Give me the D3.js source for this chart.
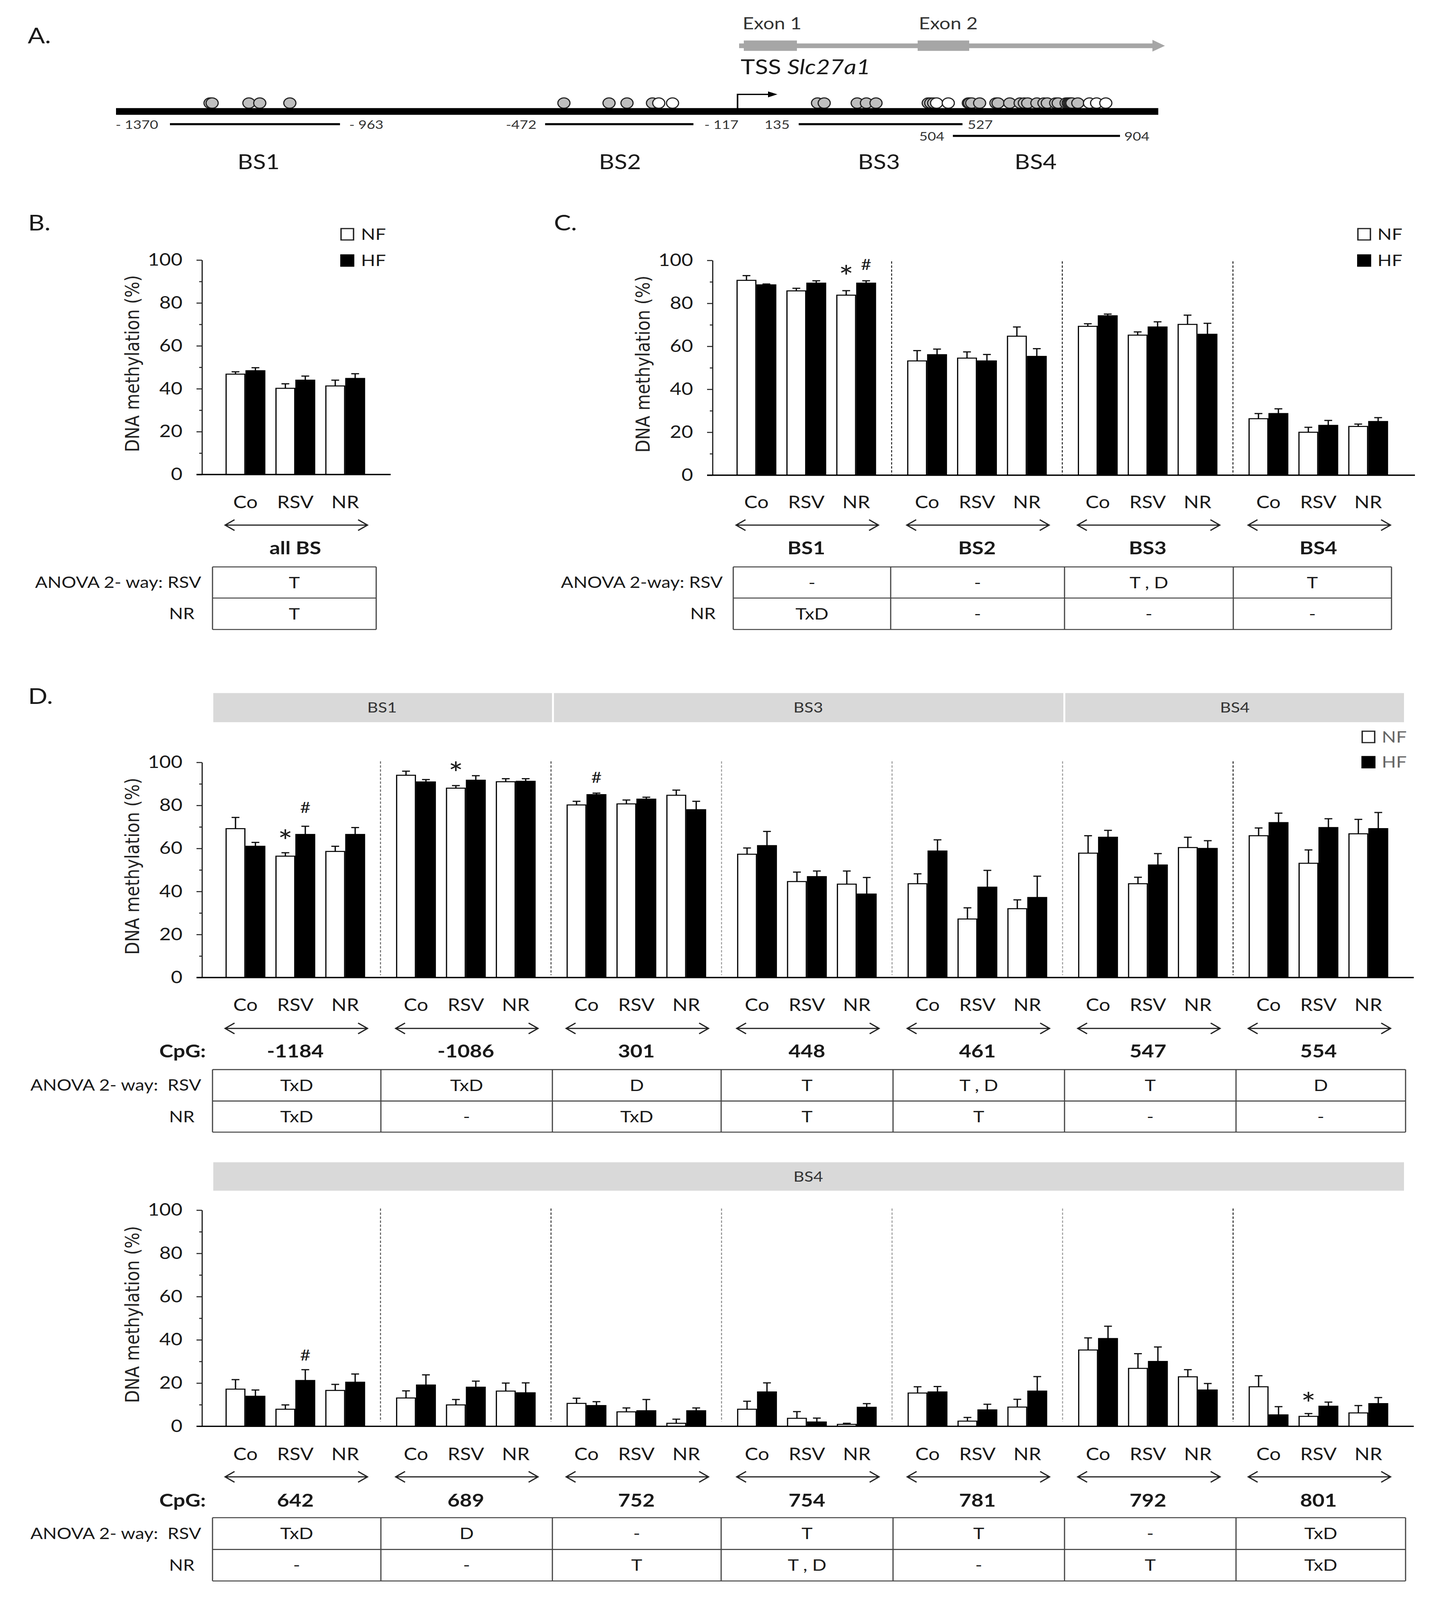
<!DOCTYPE html>
<html>
<head>
<meta charset="utf-8">
<script src="https://cdnjs.cloudflare.com/ajax/libs/d3/7.8.5/d3.min.js"></script>
<style>
  html, body { margin: 0; padding: 0; background: #fff; }
  text { font-family: Lato, "Open Sans", sans-serif; fill: #1a1a1a; white-space: pre; }
</style>
</head>
<body>
<script>
// categories
const treatments = ["Co", "RSV", "NR"];
const series = ["NF", "HF"];
const regionsC = ["BS1", "BS2", "BS3", "BS4"];
const cpgD1 = ["-1184", "-1086", "301", "448", "461", "547", "554"];
const cpgD2 = ["642", "689", "752", "754", "781", "792", "801"];
const yMajor = [0, 20, 40, 60, 80, 100];
const yMinor = [10, 30, 50, 70, 90];

// panel A: CpG positions (bp from TSS)
const cpgGrey = [-1274, -1269, -1181, -1155, -1083, -427, -319, -276, -215,
  180, 196, 275, 297, 320, 445, 451, 458,
  541, 544, 549, 568, 607, 612, 640, 665, 675, 683, 705, 722, 730, 750, 756,
  775, 780, 783, 786, 789, 803];
const cpgWhite = [-200, -167, 465, 493, 831, 848, 870];
const fragments = [
  { name: "BS1", from: -1370, to: -963, fromLabel: "- 1370", toLabel: "- 963" },
  { name: "BS2", from: -472, to: -117, fromLabel: "-472", toLabel: "- 117" },
  { name: "BS3", from: 135, to: 527, fromLabel: "135", toLabel: "527" },
  { name: "BS4", from: 504, to: 904, fromLabel: "504", toLabel: "904" }
];

// panel B, values per treatment
const allNF = [46.8, 40.2, 41.3];
const allHF = [48.4, 44.0, 44.8];
const allNFtop = [47.9, 42.3, 44.0];
const allHFtop = [49.8, 45.9, 47.0];

// panel C, values per region then treatment
const bsNF = [[90.7, 85.8, 83.8], [53.2, 54.5, 64.7], [69.3, 65.2, 70.2], [26.3, 20.0, 22.7]];
const bsHF = [[88.6, 89.4, 89.4], [56.1, 53.2, 55.3], [74.2, 69.0, 65.6], [28.7, 23.2, 25.0]];
const bsNFtop = [[92.9, 87.0, 85.9], [58.0, 57.4, 69.0], [70.5, 66.7, 74.5], [28.7, 22.3, 23.8]];
const bsHFtop = [[89.0, 90.5, 90.5], [58.7, 56.2, 58.9], [75.0, 71.4, 70.7], [30.9, 25.5, 26.8]];

// panel D top row
const d1NF = [[69.2, 56.4, 58.6], [94.0, 88.0, 91.0], [80.2, 80.7, 84.7], [57.3, 44.6, 43.4],
  [43.6, 27.2, 32.0], [57.8, 43.6, 60.4], [65.9, 53.1, 66.8]];
const d1HF = [[61.0, 66.5, 66.5], [90.9, 91.7, 91.2], [85.0, 82.9, 78.0], [61.3, 46.9, 38.8],
  [58.8, 42.0, 37.2], [65.2, 52.3, 60.0], [72.0, 69.7, 69.2]];
const d1NFtop = [[74.4, 58.0, 61.0], [95.9, 89.2, 92.4], [81.9, 82.5, 87.1], [60.2, 49.0, 49.5],
  [48.2, 32.4, 36.1], [65.9, 46.6, 65.2], [69.5, 59.3, 73.5]];
const d1HFtop = [[62.8, 70.3, 69.7], [92.0, 93.8, 92.4], [85.7, 83.8, 81.9], [67.9, 49.5, 46.5],
  [64.0, 49.8, 47.1], [68.4, 57.6, 63.6], [76.4, 73.8, 76.7]];

// panel D bottom row
const d2NF = [[17.2, 7.9, 16.6], [13.1, 9.9, 16.3], [10.6, 6.7, 1.4], [7.9, 3.7, 0.9],
  [15.4, 2.4, 8.9], [35.3, 26.8, 22.9], [18.3, 4.6, 6.2]];
const d2HF = [[13.9, 21.2, 20.4], [19.1, 18.1, 15.5], [9.6, 7.2, 7.2], [15.9, 2.0, 8.8],
  [15.9, 7.6, 16.3], [40.6, 30.0, 16.8], [5.3, 9.3, 10.5]];
const d2NFtop = [[21.6, 9.9, 19.4], [16.4, 12.4, 20.0], [13.0, 8.5, 3.3], [11.6, 6.8, 1.4],
  [18.3, 4.1, 12.5], [40.9, 33.6, 26.2], [23.4, 5.9, 9.6]];
const d2HFtop = [[16.8, 26.2, 24.2], [23.8, 20.9, 20.1], [11.4, 12.4, 8.5], [20.1, 3.8, 10.5],
  [18.4, 10.2, 23.0], [46.3, 36.7, 19.8], [9.1, 11.2, 13.3]];

// significance marks: group, treatment, symbol, series it sits over, height on the y scale
const marksC = [["BS1", "NR", "*", "NF", 94], ["BS1", "NR", "#", "HF", 98]];
const marksD1 = [["-1184", "RSV", "*", "NF", 65], ["-1184", "RSV", "#", "HF", 79],
  ["-1086", "RSV", "*", "NF", 96.5], ["301", "Co", "#", "HF", 93]];
const marksD2 = [["642", "RSV", "#", "HF", 33], ["801", "RSV", "*", "NF", 12]];

// ANOVA tables
const tableB = [["T"], ["T"]];
const tableC = [["-", "-", "T , D", "T"], ["TxD", "-", "-", "-"]];
const tableD1 = [["TxD", "TxD", "D", "T", "T , D", "T", "D"], ["TxD", "-", "TxD", "T", "T", "-", "-"]];
const tableD2 = [["TxD", "D", "-", "T", "T", "-", "TxD"], ["-", "-", "T", "T , D", "-", "T", "TxD"]];

// the window can be shorter than the figure, so the figure is fitted to whatever it gets
const svg = d3.select("body").append("svg")
  .attr("width", window.innerWidth)
  .attr("height", window.innerHeight)
  .attr("viewBox", "0 0 3658 4781")
  .attr("preserveAspectRatio", "none")
  .style("display", "block");

function label(x, y, str, size, anchor, weight, color) {
  return svg.append("text")
    .attr("x", x)
    .attr("y", y)
    .attr("dy", "0.35em")
    .attr("text-anchor", anchor || "middle")
    .style("font-size", size + "px")
    .style("font-weight", weight || "normal")
    .style("fill", color || "#1a1a1a")
    .text(str);
}

// one bar panel with its axis, bars, separators, labels and arrows
function barPanel(cfg) {
  const g = svg.append("g");
  const y = d3.scaleLinear().domain([0, 100]).range([cfg.y0, cfg.y100]);
  const x = d3.scaleBand().domain(cfg.groups).range(cfg.xRange);
  const inner = d3.scaleBand().domain(treatments).range([27, 410]);
  const bar = d3.scaleBand().domain(series).range([-51, 51]);
  const centre = (grp, t) => x(grp) + inner(t) + inner.bandwidth() / 2;

  // separators go behind the bars
  cfg.groups.slice(0, -1).forEach(function(grp, i) {
    g.append("line")
      .attr("x1", x(grp) + x.bandwidth())
      .attr("x2", x(grp) + x.bandwidth())
      .attr("y1", cfg.y100 + cfg.sepTop)
      .attr("y2", cfg.y0 - cfg.sepGap)
      .attr("stroke", cfg.sepColors[i])
      .attr("stroke-width", 2.5)
      .attr("stroke-dasharray", "7,5");
  });

  cfg.groups.forEach(function(grp, gi) {
    treatments.forEach(function(t, ti) {
      series.forEach(function(s) {
        const val = s === "NF" ? cfg.nf[gi][ti] : cfg.hf[gi][ti];
        const top = s === "NF" ? cfg.nfTop[gi][ti] : cfg.hfTop[gi][ti];
        const bx = centre(grp, t) + bar(s);
        const mid = bx + bar.bandwidth() / 2;

        g.append("line").attr("x1", mid).attr("x2", mid)
          .attr("y1", y(val)).attr("y2", y(top))
          .attr("stroke", "#111").attr("stroke-width", 3.5);
        g.append("line").attr("x1", mid - 10).attr("x2", mid + 10)
          .attr("y1", y(top)).attr("y2", y(top))
          .attr("stroke", "#111").attr("stroke-width", 3.5);

        g.append("rect")
          .attr("x", bx + 1.5)
          .attr("y", y(val))
          .attr("width", bar.bandwidth() - 3)
          .attr("height", y(0) - y(val))
          .attr("fill", s === "NF" ? "#fff" : "#000")
          .attr("stroke", "#000")
          .attr("stroke-width", 3);
      });

      label(centre(grp, t), cfg.catY, t, 51);
    });

    // double headed arrow under each group
    const ax1 = centre(grp, "Co") - 52;
    const ax2 = centre(grp, "NR") + 57;
    g.append("path")
      .attr("d", "M" + (ax1 + 24) + "," + (cfg.arrowY - 16) + "L" + ax1 + "," + cfg.arrowY + "L" + (ax1 + 24) + "," + (cfg.arrowY + 16)
        + "M" + ax1 + "," + cfg.arrowY + "L" + ax2 + "," + cfg.arrowY
        + "M" + (ax2 - 24) + "," + (cfg.arrowY - 16) + "L" + ax2 + "," + cfg.arrowY + "L" + (ax2 - 24) + "," + (cfg.arrowY + 16))
      .attr("fill", "none")
      .attr("stroke", "#222")
      .attr("stroke-width", 3.5);

    label(centre(grp, "RSV"), cfg.nameY, cfg.names ? cfg.names[gi] : grp, 54, "middle", "bold");
  });

  // y axis
  const axis = g.append("g").attr("transform", "translate(" + cfg.axisX + ",0)");
  axis.call(d3.axisLeft(y).tickValues(yMajor).tickSize(14).tickSizeOuter(0).tickPadding(36));
  axis.selectAll("text").style("font-size", "51px").style("font-family", "Lato").style("fill", "#1a1a1a");
  axis.selectAll("line").attr("stroke", "#222").attr("stroke-width", 3);
  axis.select(".domain").attr("stroke", "#222").attr("stroke-width", 3);
  const minor = g.append("g").attr("transform", "translate(" + cfg.axisX + ",0)");
  minor.call(d3.axisLeft(y).tickValues(yMinor).tickSize(7).tickSizeOuter(0).tickFormat(""));
  minor.select(".domain").remove();
  minor.selectAll("line").attr("stroke", "#222").attr("stroke-width", 3);

  // baseline
  g.append("line")
    .attr("x1", cfg.axisX - 14).attr("x2", cfg.baseEnd)
    .attr("y1", y(0)).attr("y2", y(0))
    .attr("stroke", "#000").attr("stroke-width", 4);

  svg.append("text")
    .attr("transform", "translate(" + (cfg.axisX - 161) + "," + ((cfg.y0 + cfg.y100) / 2 - 11) + ") rotate(-90)")
    .attr("text-anchor", "middle")
    .style("font-family", "'DejaVu Sans'")
    .style("font-size", "50px")
    .style("fill", "#222")
    .text("DNA methylation (%)");

  (cfg.marks || []).forEach(function(m) {
    const mx = centre(m[0], m[1]) + bar(m[3]) + bar.bandwidth() / 2;
    if (m[2] === "*") {
      label(mx, y(m[4]) + 12, "*", 90);
    } else {
      label(mx, y(m[4]), "#", 46);
    }
  });
}

// table of ANOVA results
function anovaTable(colX, rowY, cells, rowLabels, labelX) {
  const lineColor = "#444";
  rowY.forEach(function(ry) {
    svg.append("line").attr("x1", colX[0]).attr("x2", colX[colX.length - 1])
      .attr("y1", ry).attr("y2", ry)
      .attr("stroke", lineColor).attr("stroke-width", 3);
  });
  colX.forEach(function(cx) {
    svg.append("line").attr("x1", cx).attr("x2", cx)
      .attr("y1", rowY[0]).attr("y2", rowY[2])
      .attr("stroke", lineColor).attr("stroke-width", 3);
  });
  cells.forEach(function(row, r) {
    const my = (rowY[r] + rowY[r + 1]) / 2;
    row.forEach(function(c, i) {
      label((colX[i] + colX[i + 1]) / 2, my, c, 48);
    });
    label(labelX[r], my, rowLabels[r], 47, "end");
  });
}

function legend(sx, textX, y1, y2, color) {
  svg.append("rect").attr("x", sx + 2).attr("y", y1 - 17).attr("width", 32).attr("height", 34)
    .attr("fill", "#fff").attr("stroke", "#222").attr("stroke-width", 3.5);
  svg.append("rect").attr("x", sx).attr("y", y2 - 18).attr("width", 36).attr("height", 37)
    .attr("fill", "#000");
  label(textX, y1, "NF", 48, "start", "normal", color);
  label(textX, y2, "HF", 48, "start", "normal", color);
}

// ---- panel A ----
label(71, 107, "A.", 65, "start");
const bp = d3.scaleLinear().domain([-1370, 904]).range([435, 2867]);

// grey gene arrow with exons
svg.append("path")
  .attr("d", "M1892,130L2950,130L2950,119L2982,137L2950,154L2950,144L1892,144Z")
  .attr("fill", "#a6a6a6");
svg.append("rect").attr("x", 1904).attr("y", 121).attr("width", 136).attr("height", 31).attr("fill", "#a6a6a6");
svg.append("rect").attr("x", 2349).attr("y", 121).attr("width", 132).attr("height", 31).attr("fill", "#a6a6a6");
label(1901, 70, "Exon 1", 50, "start", "normal", "#333");
label(2352, 70, "Exon 2", 50, "start", "normal", "#333");

const tss = label(1896, 200, "TSS ", 62, "start");
tss.append("tspan").style("font-style", "italic").text("Slc27a1");

// circles first, black strand on top of their lower edge
svg.selectAll(".cpgGrey").data(cpgGrey).enter().append("circle")
  .attr("cx", d => bp(d)).attr("cy", 308).attr("r", 15.5)
  .attr("fill", "#bfbfbf").attr("stroke", "#222").attr("stroke-width", 3);
svg.selectAll(".cpgWhite").data(cpgWhite).enter().append("circle")
  .attr("cx", d => bp(d)).attr("cy", 308).attr("r", 15.5)
  .attr("fill", "#fff").attr("stroke", "#222").attr("stroke-width", 3);
svg.append("rect").attr("x", 297).attr("y", 323).attr("width", 2668).attr("height", 20).attr("fill", "#000");

// transcription start arrow
svg.append("path")
  .attr("d", "M1888,325L1888,282L1970,282")
  .attr("fill", "none").attr("stroke", "#000").attr("stroke-width", 4);
svg.append("path").attr("d", "M1966,273L1990,282L1966,291Z").attr("fill", "#000");

// amplified fragments
const fragY = { BS1: 371, BS2: 371, BS3: 371, BS4: 406 };
const fragNameX = { BS1: 662, BS2: 1587, BS3: 2250, BS4: 2651 };
const fromX = { BS1: 296, BS2: 1295, BS3: 1957, BS4: 2353 };
const toX = { BS1: 894, BS2: 1803, BS3: 2477, BS4: 2878 };
fragments.forEach(function(f) {
  svg.append("line").attr("x1", bp(f.from)).attr("x2", bp(f.to))
    .attr("y1", fragY[f.name]).attr("y2", fragY[f.name])
    .attr("stroke", "#000").attr("stroke-width", 6);
  label(fromX[f.name], fragY[f.name] + 1, f.fromLabel, 37, "start", "normal", "#333");
  label(toX[f.name], fragY[f.name] + 1, f.toLabel, 37, "start", "normal", "#333");
  label(fragNameX[f.name], 484, f.name, 61);
});

// ---- panel B ----
label(72, 666, "B.", 65, "start");
legend(871, 924, 700, 778);
barPanel({
  groups: ["all BS"], xRange: [537.5, 974], y0: 1418, y100: 777, axisX: 517, baseEnd: 1000,
  nf: [allNF], hf: [allHF], nfTop: [allNFtop], hfTop: [allHFtop],
  sepColors: [], sepTop: 0, sepGap: 0, catY: 1501, arrowY: 1569, nameY: 1637
});
anovaTable([544, 963], [1694, 1787, 1881], tableB, ["ANOVA 2- way: RSV", "NR"], [515, 498]);

// ---- panel C ----
label(1418, 666, "C.", 65, "start");
legend(3474, 3526, 700, 778);
barPanel({
  groups: regionsC, xRange: [1845.5, 3593], y0: 1420, y100: 778, axisX: 1824, baseEnd: 3622,
  nf: bsNF, hf: bsHF, nfTop: bsNFtop, hfTop: bsHFtop, marks: marksC,
  sepColors: ["#222", "#222", "#222"], sepTop: 3, sepGap: 2, catY: 1501, arrowY: 1569, nameY: 1637
});
anovaTable([1877, 2280, 2725, 3157, 3562], [1694, 1787, 1881], tableC, ["ANOVA 2-way: RSV", "NR"], [1850, 1832]);

// ---- panel D ----
label(72, 2081, "D.", 65, "start");
const bandColor = "#d9d9d9";
svg.append("rect").attr("x", 546).attr("y", 2071).attr("width", 867).attr("height", 87).attr("fill", bandColor);
svg.append("rect").attr("x", 1418).attr("y", 2071).attr("width", 1304).attr("height", 87).attr("fill", bandColor);
svg.append("rect").attr("x", 2727).attr("y", 2071).attr("width", 867).attr("height", 87).attr("fill", bandColor);
label(978, 2114, "BS1", 43, "middle", "normal", "#333");
label(2069, 2114, "BS3", 43, "middle", "normal", "#333");
label(3161, 2114, "BS4", 43, "middle", "normal", "#333");
legend(3485, 3537, 2202, 2277, "#666");

barPanel({
  groups: cpgD1, xRange: [537.5, 3593], y0: 2921, y100: 2278, axisX: 517, baseEnd: 3619,
  nf: d1NF, hf: d1HF, nfTop: d1NFtop, hfTop: d1HFtop, marks: marksD1,
  sepColors: ["#666", "#444", "#999", "#999", "#999", "#222"], sepTop: -3, sepGap: 7,
  catY: 3003, arrowY: 3073, nameY: 3141
});
label(527, 3141, "CpG:", 54, "end", "bold");
const colD = [544, 975, 1414, 1846, 2286, 2725, 3164, 3598];
anovaTable(colD, [3196, 3290, 3383], tableD1, ["ANOVA 2- way:  RSV", "NR"], [515, 498]);

svg.append("rect").attr("x", 546).attr("y", 3473).attr("width", 3048).attr("height", 85).attr("fill", bandColor);
label(2069, 3516, "BS4", 43, "middle", "normal", "#333");

barPanel({
  groups: cpgD2, xRange: [537.5, 3593], y0: 4262, y100: 3616, axisX: 517, baseEnd: 3619,
  nf: d2NF, hf: d2HF, nfTop: d2NFtop, hfTop: d2HFtop, marks: marksD2,
  sepColors: ["#555", "#333", "#888", "#999", "#999", "#222"], sepTop: -5, sepGap: 14,
  catY: 4345, arrowY: 4413, nameY: 4483
});
label(527, 4483, "CpG:", 54, "end", "bold");
anovaTable(colD, [4535, 4630, 4724], tableD2, ["ANOVA 2- way:  RSV", "NR"], [515, 498]);
</script>
</body>
</html>
